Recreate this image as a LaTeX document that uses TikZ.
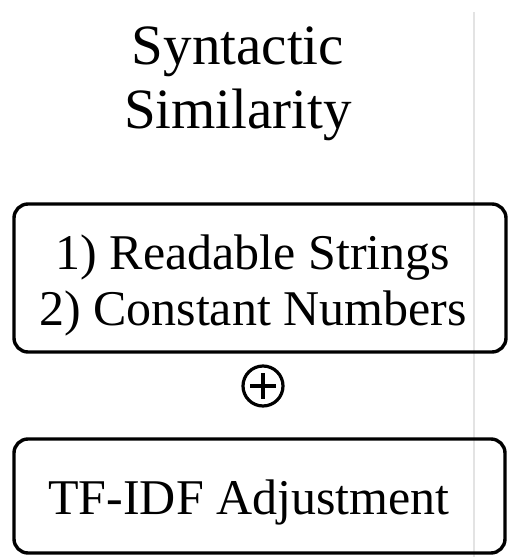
\documentclass[tikz,border=0pt]{standalone}
\usepackage{fontspec}
\setmainfont{Liberation Serif}
\usetikzlibrary{positioning,calc}

\tikzset{
  featbox/.style = {draw, line width=3.4pt, rounded corners=14pt, align=center,
                    font=\fontsize{50}{56}\selectfont},
  oplus/.style   = {draw, circle, line width=3.2pt, minimum size=40pt, inner sep=0pt}
}

\begin{document}
\begin{tikzpicture}[x=1pt, y=-1pt]
  % Fix the page size
  \useasboundingbox (0,0) rectangle (510,557);

  % Thin gray guide line on the right
  \draw[gray!22, line width=1.5pt] (474,12) -- (474,557);

  % Title
  \node[align=center, font=\fontsize{57}{64}\selectfont] (title) at (238,84) {Syntactic\\Similarity};

  % Boxes
  \node[featbox, minimum width=492pt, minimum height=148pt] (feats) at (260,278) {};
  \node[align=center, font=\fontsize{50}{56}\selectfont] (feattext) at (253,285)
       {1) Readable Strings\\2) Constant Numbers};
  \node[oplus] (plus) at (263,386) {};
  \draw[line width=3.2pt] ($(plus.center)+(-13,0)$) -- ($(plus.center)+(13,0)$);
  \draw[line width=3.2pt] ($(plus.center)+(0,-13)$) -- ($(plus.center)+(0,13)$);
  \node[featbox, minimum width=491pt, minimum height=114pt] (tfidf) at (259.5,496) {};
  \node[font=\fontsize{50}{56}\selectfont] (tfidftext) at (249,502) {TF-IDF Adjustment};
\end{tikzpicture}
\end{document}
